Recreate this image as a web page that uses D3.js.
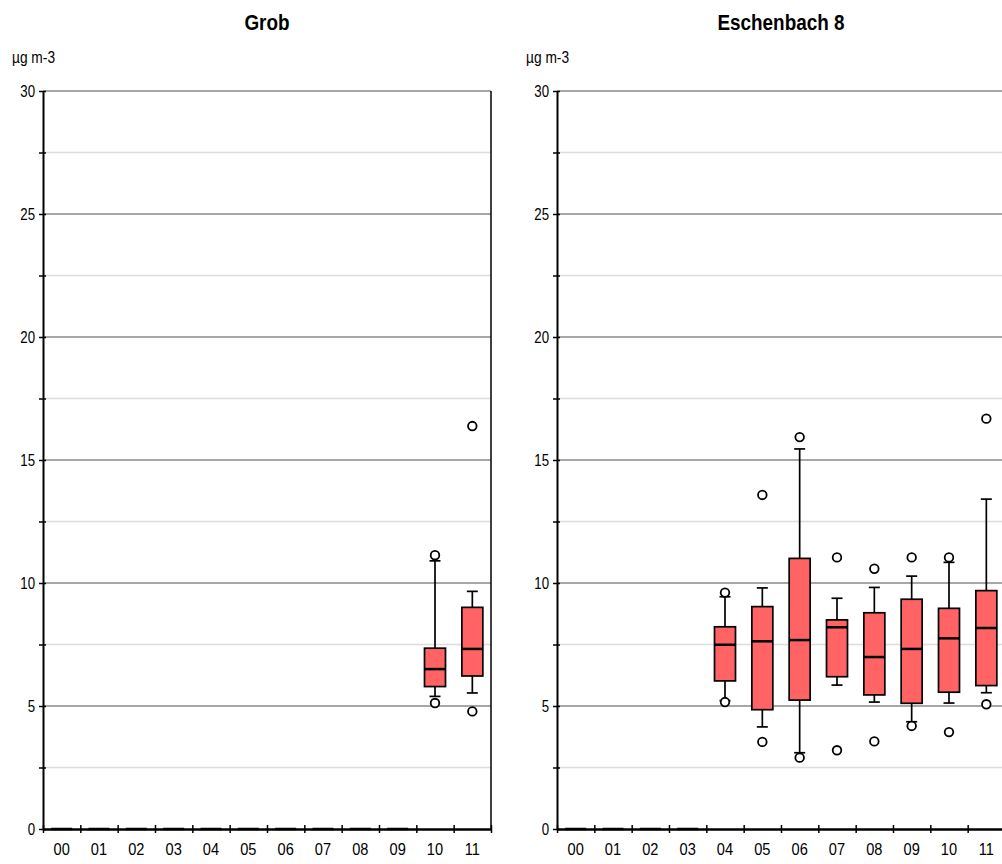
<!DOCTYPE html>
<html>
<head>
<meta charset="utf-8">
<script src="https://cdn.jsdelivr.net/npm/d3@7"></script>
<style>
  body { margin: 0; background: #fff; }
  svg { display: block; font-family: "Liberation Sans", Arial, sans-serif; }
</style>
</head>
<body>
<svg id="mainSVG"></svg>
<script>
// categories (years)
let years = ["00","01","02","03","04","05","06","07","08","09","10","11"]
let yTicks = d3.range(0, 30.1, 2.5)

// Grob
let grobLow  = [0,0,0,0,0,0,0,0,0,0,5.39,5.53]
let grobQ1   = [0,0,0,0,0,0,0,0,0,0,5.79,6.22]
let grobMed  = [0,0,0,0,0,0,0,0,0,0,6.50,7.32]
let grobQ3   = [0,0,0,0,0,0,0,0,0,0,7.35,9.01]
let grobHigh = [0,0,0,0,0,0,0,0,0,0,10.9,9.66]
let grobOut  = [[],[],[],[],[],[],[],[],[],[],[5.12,11.13],[4.78,16.38]]

// Eschenbach 8
let eschLow  = [0,0,0,0,5.22,4.15,3.10,5.85,5.16,4.36,5.12,5.54]
let eschQ1   = [0,0,0,0,6.02,4.85,5.24,6.19,5.45,5.11,5.56,5.83]
let eschMed  = [0,0,0,0,7.49,7.63,7.68,8.20,6.99,7.32,7.75,8.17]
let eschQ3   = [0,0,0,0,8.22,9.04,11.0,8.50,8.79,9.34,8.97,9.69]
let eschHigh = [0,0,0,0,9.44,9.80,15.45,9.38,9.82,10.28,10.84,13.41]
let eschOut  = [[],[],[],[],[5.16,9.61],[3.54,13.58],[2.90,15.93],[3.20,11.04],[3.56,10.58],[4.19,11.04],[3.94,11.04],[5.07,16.68]]

let w = 1002, h = 864
let svg = d3.select('#mainSVG').attr('width', w).attr('height', h)

// the reference font is a little narrower than Liberation Sans
let sx = 0.78

function makeStats(low, q1, med, q3, high, out){
    return years.map((yr, i) => ({yr, low: low[i], q1: q1[i], med: med[i], q3: q3[i], high: high[i], out: out[i]}))
}

function drawPanel(title, stats, x0){
    let top = 91, bottom = 829, pw = 448
    let g = svg.append('g')

    let x = d3.scaleBand().domain(years).range([x0, x0 + pw])
    let xEdge = d3.scaleLinear().domain([0, years.length]).range([x0, x0 + pw])
    let y = d3.scaleLinear().domain([0, 30]).range([bottom, top])

    // gridlines
    g.append('g')
        .selectAll('line')
        .data(yTicks.filter(d => d > 0))
        .join('line')
        .attr('x1', x0).attr('x2', x0 + pw)
        .attr('y1', d => y(d)).attr('y2', d => y(d))
        .attr('stroke', d => d % 5 === 0 ? '#8a8a8a' : '#dcdcdc')
        .attr('stroke-width', 1.5)

    // right border
    g.append('line')
        .attr('x1', x0 + pw).attr('x2', x0 + pw)
        .attr('y1', top).attr('y2', bottom)
        .attr('stroke', '#000').attr('stroke-width', 1.5)

    // y axis
    let yAxis = g.append('g')
        .attr('transform', `translate(${x0}, 0)`)
        .call(d3.axisLeft(y).tickValues(yTicks).tickSizeOuter(0).tickSizeInner(4).tickPadding(5)
            .tickFormat(d => d % 5 === 0 ? d : ''))
    yAxis.select('.domain').attr('stroke', '#000').attr('stroke-width', 2)
    yAxis.selectAll('.tick line').attr('x1', 3).attr('stroke-width', 1.5)
    yAxis.selectAll('.tick text')
        .attr('font-size', 17).attr('fill', '#000').attr('font-family', 'Liberation Sans, Arial, sans-serif')
        .attr('x', -8 / sx).attr('transform', `scale(${sx},1)`)

    // x axis tick marks at category edges
    let xTickAxis = g.append('g')
        .attr('transform', `translate(0, ${bottom})`)
        .call(d3.axisBottom(xEdge).tickValues(d3.range(years.length + 1)).tickFormat('').tickSizeOuter(0).tickSizeInner(4))
    xTickAxis.select('.domain').attr('stroke', '#000').attr('stroke-width', 2.5)
    xTickAxis.selectAll('.tick line').attr('y1', -4).attr('stroke-width', 1.5)

    // x labels
    let xAxis = g.append('g')
        .attr('transform', `translate(0, ${bottom})`)
        .call(d3.axisBottom(x).tickSize(0).tickPadding(14))
    xAxis.select('.domain').remove()
    xAxis.selectAll('.tick text')
        .attr('font-size', 17).attr('fill', '#000').attr('font-family', 'Liberation Sans, Arial, sans-serif')
        .attr('transform', 'scale(0.86,1)')

    // boxes
    let bw = 21, cw = 11
    let boxes = g.append('g')
        .selectAll('g')
        .data(stats)
        .join('g')
        .attr('transform', d => `translate(${x(d.yr) + x.bandwidth() / 2}, 0)`)

    boxes.append('line')
        .attr('y1', d => y(d.low)).attr('y2', d => y(d.high))
        .attr('stroke', '#000').attr('stroke-width', 1.7)
    boxes.append('line')
        .attr('x1', -cw / 2).attr('x2', cw / 2)
        .attr('y1', d => y(d.high)).attr('y2', d => y(d.high))
        .attr('stroke', '#000').attr('stroke-width', 1.7)
    boxes.append('line')
        .attr('x1', -cw / 2).attr('x2', cw / 2)
        .attr('y1', d => y(d.low)).attr('y2', d => y(d.low))
        .attr('stroke', '#000').attr('stroke-width', 1.7)
    boxes.append('rect')
        .attr('x', -bw / 2).attr('width', bw)
        .attr('y', d => y(d.q3)).attr('height', d => y(d.q1) - y(d.q3))
        .attr('fill', '#ff6363').attr('stroke', '#000').attr('stroke-width', 1.7)
    boxes.append('line')
        .attr('x1', -bw / 2).attr('x2', bw / 2)
        .attr('y1', d => y(d.med)).attr('y2', d => y(d.med))
        .attr('stroke', '#000').attr('stroke-width', 2.5)
    boxes.selectAll('circle')
        .data(d => d.out)
        .join('circle')
        .attr('cy', d => y(d)).attr('r', 4.3)
        .attr('fill', '#fff').attr('stroke', '#000').attr('stroke-width', 1.8)

    // title and unit
    let tsx = 0.86
    svg.append('text')
        .attr('x', (x0 + pw / 2) / tsx).attr('y', 30)
        .attr('transform', `scale(${tsx},1)`)
        .attr('text-anchor', 'middle')
        .attr('font-size', 22).attr('font-weight', 'bold')
        .text(title)
    svg.append('text')
        .attr('x', (x0 - 31) / tsx).attr('y', 63)
        .attr('transform', `scale(${tsx},1)`)
        .attr('font-size', 16)
        .text('µg m-3')
}

drawPanel('Grob', makeStats(grobLow, grobQ1, grobMed, grobQ3, grobHigh, grobOut), 43)
drawPanel('Eschenbach 8', makeStats(eschLow, eschQ1, eschMed, eschQ3, eschHigh, eschOut), 557)
</script>
</body>
</html>
